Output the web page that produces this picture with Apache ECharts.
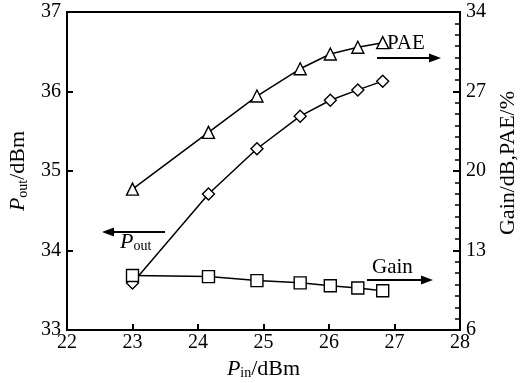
<!DOCTYPE html>
<html><head><meta charset="utf-8">
<script src="https://cdn.jsdelivr.net/npm/echarts@6/dist/echarts.min.js"></script>
<style>html,body{margin:0;padding:0;background:#fff}#c{width:521px;height:383px}</style>
</head><body><div id="c"></div>
<script>
var pin = [23, 24.16, 24.9, 25.56, 26.02, 26.44, 26.82];
var pout = [33.59, 34.71, 35.28, 35.69, 35.89, 36.02, 36.13];
var pae = [18.4, 23.4, 26.6, 29.0, 30.3, 30.9, 31.3];
var gain = [10.8, 10.7, 10.35, 10.15, 9.9, 9.7, 9.45];
var xTicks = [22, 28, 1];
var leftTicks = [33, 37, 1];
var rightTicks = [6, 34, 7];

function pairs(xs, ys){ return xs.map(function(x,i){return [x, ys[i]];}); }
var F = 'Liberation Serif, Times New Roman, serif';
var chart = echarts.init(document.getElementById('c'));
var sym = {color:'#fff', borderColor:'#000', borderWidth:1.4};
var line = {color:'#000', width:1.5};
var richT = {i:{fontFamily:F, fontStyle:'italic', fontSize:22, color:'#000'}, s:{fontFamily:F, fontSize:14, color:'#000', verticalAlign:'bottom', padding:[9,0,0,0]}, n:{fontFamily:F, fontSize:22, color:'#000'}};
chart.setOption({
  animation:false,
  backgroundColor:'#fff',
  grid:{left:67, right:61, top:12, bottom:53, containLabel:false, outerBoundsMode:'none', show:true, borderColor:'#000', borderWidth:2, backgroundColor:'transparent'},
  xAxis:{type:'value', min:xTicks[0], max:xTicks[1], interval:xTicks[2],
    axisLine:{lineStyle:{color:'#000', width:2}},
    axisTick:{inside:true, length:6, lineStyle:{color:'#000', width:2}},
    splitLine:{show:false},
    axisLabel:{color:'#000', fontFamily:F, fontSize:20, margin:3},
    name:'{i|P}{s|in}{n|/dBm}', nameLocation:'middle', nameGap:24,
    nameTextStyle:{rich:richT}
  },
  yAxis:[{type:'value', min:leftTicks[0], max:leftTicks[1], interval:leftTicks[2], position:'left',
    axisLine:{show:true, lineStyle:{color:'#000', width:2}},
    axisTick:{show:true, inside:true, length:6, lineStyle:{color:'#000', width:2}},
    splitLine:{show:false},
    axisLabel:{color:'#000', fontFamily:F, fontSize:20, margin:6},
    name:'{i|P}{s|out}{n|/dBm}', nameLocation:'middle', nameGap:34, nameRotate:90,
    nameTextStyle:{rich:richT}
  },{type:'value', min:rightTicks[0], max:rightTicks[1], interval:rightTicks[2], position:'right',
    axisLine:{show:true, lineStyle:{color:'#000', width:2}},
    axisTick:{show:true, inside:true, length:7, lineStyle:{color:'#000', width:2}},
    minorTick:{show:true, splitNumber:7, length:5, lineStyle:{color:'#000', width:1.5}},
    splitLine:{show:false},
    axisLabel:{color:'#000', fontFamily:F, fontSize:20, margin:6},
    name:'Gain/dB,PAE/%', nameLocation:'middle', nameGap:37, nameRotate:90,
    nameTextStyle:{color:'#000', fontFamily:F, fontSize:22, padding:[0,0,0,16]}
  }],
  series:[
    {type:'line', name:'Pout', yAxisIndex:0, data:pairs(pin,pout), symbol:'diamond', symbolSize:12, itemStyle:sym, lineStyle:line},
    {type:'line', name:'PAE', yAxisIndex:1, data:pairs(pin,pae), symbol:'triangle', symbolSize:12, itemStyle:sym, lineStyle:line},
    {type:'line', name:'Gain', yAxisIndex:1, data:pairs(pin,gain), symbol:'rect', symbolSize:12, itemStyle:sym, lineStyle:line}
  ],
  graphic:[
    {type:'line', shape:{x1:165, y1:232, x2:110, y2:232}, style:{stroke:'#000', lineWidth:2}},
    {type:'polygon', shape:{points:[[102,232],[114,227.5],[114,236.5]]}, style:{fill:'#000'}},
    {type:'text', left:120, top:231, style:{text:'{i|P}{s|out}', rich:{i:{fontFamily:F, fontStyle:'italic', fontSize:22, fill:'#000'}, s:{fontFamily:F, fontSize:14, fill:'#000', padding:[9,0,0,0]}}}},
    {type:'line', shape:{x1:377, y1:58, x2:432, y2:58}, style:{stroke:'#000', lineWidth:2}},
    {type:'polygon', shape:{points:[[441,58],[429,53.5],[429,62.5]]}, style:{fill:'#000'}},
    {type:'text', left:387, top:33, style:{text:'PAE', fontFamily:F, fontSize:21, fill:'#000'}},
    {type:'line', shape:{x1:367, y1:280, x2:424, y2:280}, style:{stroke:'#000', lineWidth:2}},
    {type:'polygon', shape:{points:[[433,280],[421,275.5],[421,284.5]]}, style:{fill:'#000'}},
    {type:'text', left:372, top:257, style:{text:'Gain', fontFamily:F, fontSize:21, fill:'#000'}}
  ]
});
</script></body></html>
